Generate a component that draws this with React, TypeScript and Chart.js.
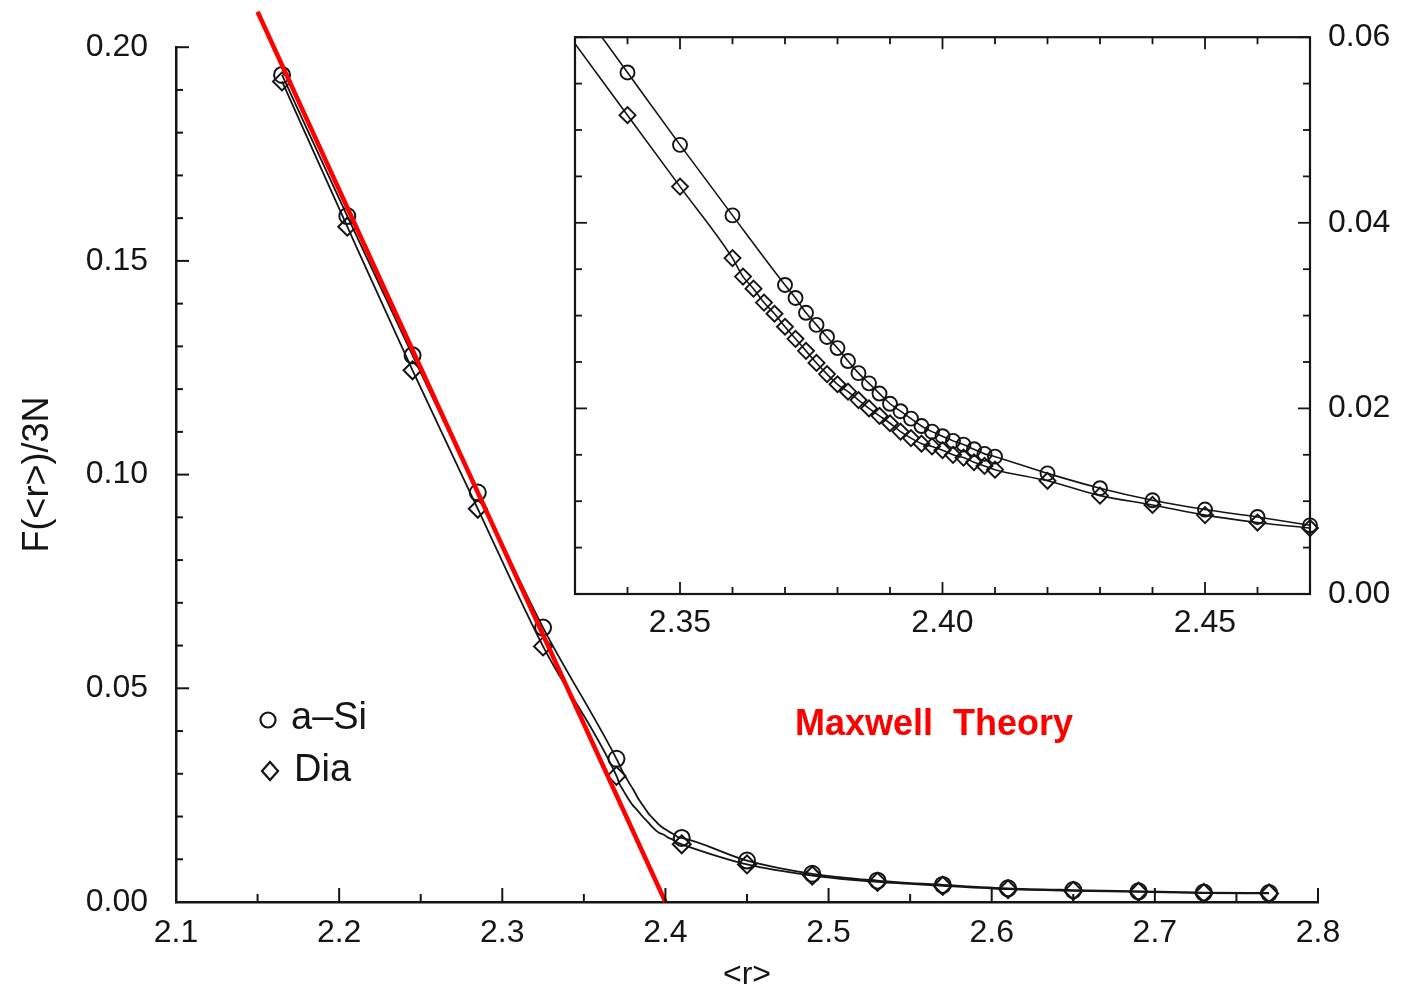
import React, { useEffect, useRef } from 'react';
import { Chart, registerables } from 'chart.js';
Chart.register(...registerables);

// ---------------- data ----------------
// main panel: marker positions
const mainR = [2.165, 2.205, 2.245, 2.285, 2.325, 2.37, 2.41, 2.45, 2.49, 2.53, 2.57, 2.61, 2.65, 2.69, 2.73, 2.77];
const aSiMain = [0.1935, 0.1605, 0.1279, 0.0958, 0.0642, 0.0335, 0.0150, 0.0097, 0.0066, 0.0050, 0.0040, 0.0032, 0.0028, 0.0025, 0.0022, 0.0021];
const diaMain = [0.1920, 0.1580, 0.1244, 0.0920, 0.0598, 0.0295, 0.0135, 0.0088, 0.0062, 0.0047, 0.0038, 0.0030, 0.0026, 0.0024, 0.0021, 0.0020];

// inset: a-Si
const aSiInsetR = [2.34, 2.35, 2.36, 2.370, 2.372, 2.374, 2.376, 2.378, 2.380, 2.382, 2.384, 2.386, 2.388, 2.390, 2.392, 2.394, 2.396, 2.398, 2.400, 2.402, 2.404, 2.406, 2.408, 2.410, 2.42, 2.43, 2.44, 2.45, 2.46, 2.47];
const aSiInsetF = [0.0562, 0.0484, 0.0408, 0.0333, 0.0319, 0.0303, 0.0290, 0.0277, 0.0265, 0.0251, 0.0238, 0.0227, 0.0216, 0.0205, 0.0197, 0.0189, 0.0181, 0.0175, 0.0170, 0.0165, 0.0161, 0.0156, 0.0151, 0.0148, 0.0130, 0.0114, 0.0101, 0.0091, 0.0083, 0.0074];
// inset: Dia
const diaInsetR = [2.34, 2.35, 2.360, 2.362, 2.364, 2.366, 2.368, 2.370, 2.372, 2.374, 2.376, 2.378, 2.380, 2.382, 2.384, 2.386, 2.388, 2.390, 2.392, 2.394, 2.396, 2.398, 2.400, 2.402, 2.404, 2.406, 2.408, 2.410, 2.42, 2.43, 2.44, 2.45, 2.46, 2.47];
const diaInsetF = [0.0516, 0.0439, 0.0362, 0.0342, 0.0329, 0.0314, 0.0302, 0.0288, 0.0275, 0.0262, 0.0249, 0.0237, 0.0226, 0.0218, 0.0209, 0.0200, 0.0192, 0.0184, 0.0175, 0.0168, 0.0162, 0.0159, 0.0155, 0.0150, 0.0147, 0.0142, 0.0138, 0.0134, 0.0122, 0.0106, 0.0096, 0.0085, 0.0077, 0.0071];
// where the inset curves enter the frame at its left edge
const aSiInsetStart = { x: 2.33, y: 0.0640 };
const diaInsetStart = { x: 2.33, y: 0.0593 };

// Maxwell theory line F/3N = 2 - 5<r>/6
const maxwellR = [2.15, 2.40];
const maxwellF = [0.2083, 0.0];

const mainXTicks = [2.1, 2.2, 2.3, 2.4, 2.5, 2.6, 2.7, 2.8];
const mainYTicks = [0.0, 0.05, 0.10, 0.15, 0.20];
const insetXTicks = [2.35, 2.40, 2.45];
const insetYTicks = [0.0, 0.02, 0.04, 0.06];

const legendLabels = ['a\u2013Si', 'Dia'];
const theoryLabel = 'Maxwell  Theory';
const yTitle = 'F(<r>)/3N';
const xTitle = '<r>';

// ---------------- helpers ----------------
const INK = '#151515';
const FONT = "'Liberation Sans', Arial, Helvetica, sans-serif";

const pts = (xs: number[], ys: number[]) => xs.map((x, i) => ({ x, y: ys[i] }));

function mergeLine(mx: number[], my: number[], dx: number[], dy: number[], lo: number, hi: number) {
  const a = pts(mx, my);
  const b = pts(dx, dy).filter((p) => p.x > lo + 1e-9 && p.x < hi - 1e-9);
  return a.concat(b).sort((p, q) => p.x - q.x);
}

function line(ctx: CanvasRenderingContext2D, x1: number, y1: number, x2: number, y2: number) {
  ctx.beginPath();
  ctx.moveTo(x1, y1);
  ctx.lineTo(x2, y2);
  ctx.stroke();
}

const fixTicks = (vals: number[]) => (s: any) => {
  s.ticks = vals.map((v) => ({ value: v }));
};

const mainDecor = {
  id: 'mainDecor',
  afterDraw(chart: any) {
    const { ctx, chartArea, scales } = chart;
    const x = scales.x;
    const y = scales.y;
    ctx.save();
    ctx.strokeStyle = INK;
    ctx.lineWidth = 2;
    for (let k = 0; k <= 20; k++) {
      const py = y.getPixelForValue(k * 0.01);
      const len = k % 5 === 0 ? 13 : 7;
      line(ctx, chartArea.left, py, chartArea.left + len, py);
    }
    for (let k = 0; k <= 14; k++) {
      const px = x.getPixelForValue(2.1 + k * 0.05);
      const len = k % 2 === 0 ? 14 : 8;
      line(ctx, px, chartArea.bottom, px, chartArea.bottom - len);
    }
    // legend
    ctx.lineWidth = 2.2;
    ctx.beginPath();
    ctx.arc(268, 720, 7.5, 0, Math.PI * 2);
    ctx.stroke();
    ctx.beginPath();
    ctx.moveTo(270, 762);
    ctx.lineTo(278, 771);
    ctx.lineTo(270, 780);
    ctx.lineTo(262, 771);
    ctx.closePath();
    ctx.stroke();
    ctx.fillStyle = INK;
    ctx.font = `38px ${FONT}`;
    ctx.textBaseline = 'middle';
    ctx.textAlign = 'left';
    ctx.fillText(legendLabels[0], 291, 719);
    ctx.fillText(legendLabels[1], 294, 771);
    // theory label
    ctx.fillStyle = '#ff0000';
    ctx.font = `bold 36px ${FONT}`;
    ctx.fillText(theoryLabel, 795, 725);
    ctx.restore();
  },
};

const insetDecor = {
  id: 'insetDecor',
  afterDraw(chart: any) {
    const { ctx, chartArea, scales } = chart;
    const x = scales.x;
    const y = scales.y;
    const { left, right, top, bottom } = chartArea;
    ctx.save();
    ctx.strokeStyle = INK;
    ctx.lineWidth = 2.2;
    ctx.strokeRect(left, top, right - left, bottom - top);
    ctx.lineWidth = 1.8;
    for (let k = 0; k <= 12; k++) {
      const py = y.getPixelForValue(k * 0.005);
      const len = k % 4 === 0 ? 12 : 7;
      line(ctx, left, py, left + len, py);
      line(ctx, right, py, right - len, py);
    }
    for (let k = 0; k <= 14; k++) {
      const px = x.getPixelForValue(2.33 + k * 0.01);
      const len = (k + 3) % 5 === 0 ? 12 : 7;
      line(ctx, px, bottom, px, bottom - len);
      line(ctx, px, top, px, top + len);
    }
    ctx.restore();
  },
};

export default function App() {
  const mainRef = useRef<HTMLCanvasElement>(null);
  const insetRef = useRef<HTMLCanvasElement>(null);

  useEffect(() => {
    document.body.style.margin = '0';
    document.body.style.background = '#ffffff';
    const tickFont = { family: FONT, size: 32 };

    const main = new Chart(mainRef.current as HTMLCanvasElement, {
      type: 'line',
      data: {
        datasets: [
          {
            label: 'Maxwell',
            data: pts(maxwellR, maxwellF),
            borderColor: '#ff0000',
            borderWidth: 4.5,
            pointRadius: 0,
            clip: false,
          } as any,
          {
            label: 'a-Si line',
            data: mergeLine(mainR, aSiMain, aSiInsetR, aSiInsetF, 2.37, 2.41),
            borderColor: INK,
            borderWidth: 1.8,
            pointRadius: 0,
            cubicInterpolationMode: 'monotone',
          },
          {
            label: 'Dia line',
            data: mergeLine(mainR, diaMain, diaInsetR, diaInsetF, 2.37, 2.41),
            borderColor: INK,
            borderWidth: 1.8,
            pointRadius: 0,
            cubicInterpolationMode: 'monotone',
          },
          {
            label: 'a-Si',
            data: pts(mainR, aSiMain),
            showLine: false,
            pointStyle: 'circle',
            pointRadius: 8,
            pointBorderWidth: 2,
            pointBorderColor: INK,
            pointBackgroundColor: 'rgba(0,0,0,0)',
            clip: false,
          } as any,
          {
            label: 'Dia',
            data: pts(mainR, diaMain),
            showLine: false,
            pointStyle: 'rectRot',
            pointRadius: 9,
            pointBorderWidth: 2,
            pointBorderColor: INK,
            pointBackgroundColor: 'rgba(0,0,0,0)',
            clip: false,
          } as any,
        ],
      },
      options: {
        animation: false,
        responsive: false,
        maintainAspectRatio: false,
        events: [],
        layout: { padding: { left: 0, top: 42, right: 88, bottom: 0 } },
        plugins: { legend: { display: false }, tooltip: { enabled: false } },
        scales: {
          x: {
            type: 'linear',
            min: 2.1,
            max: 2.8,
            afterBuildTicks: fixTicks(mainXTicks),
            afterFit: (s: any) => {
              s.height = 86;
            },
            ticks: {
              callback: (v: any) => Number(v).toFixed(1),
              font: tickFont,
              color: INK,
              padding: 12,
              maxRotation: 0,
              autoSkip: false,
            },
            grid: { drawOnChartArea: false, drawTicks: false },
            border: { display: true, color: INK, width: 2.5 },
            title: {
              display: true,
              text: xTitle,
              color: INK,
              font: { family: FONT, size: 32, lineHeight: 0.8 },
              padding: { top: 0, bottom: 0 },
            },
          },
          y: {
            type: 'linear',
            min: 0,
            max: 0.2,
            afterBuildTicks: fixTicks(mainYTicks),
            afterFit: (s: any) => {
              s.width = 176;
            },
            ticks: {
              callback: (v: any) => Number(v).toFixed(2),
              font: tickFont,
              color: INK,
              padding: 28,
              autoSkip: false,
            },
            grid: { drawOnChartArea: false, drawTicks: false },
            border: { display: true, color: INK, width: 2.5 },
            title: {
              display: true,
              text: yTitle,
              color: INK,
              font: { family: FONT, size: 36, lineHeight: 1.2 },
              padding: { top: 16, bottom: 0 },
            },
          },
        },
      },
      plugins: [mainDecor],
    } as any);

    const inset = new Chart(insetRef.current as HTMLCanvasElement, {
      type: 'line',
      data: {
        datasets: [
          {
            label: 'a-Si line',
            data: [aSiInsetStart].concat(pts(aSiInsetR, aSiInsetF)),
            borderColor: INK,
            borderWidth: 1.6,
            pointRadius: 0,
            cubicInterpolationMode: 'monotone',
          },
          {
            label: 'Dia line',
            data: [diaInsetStart].concat(pts(diaInsetR, diaInsetF)),
            borderColor: INK,
            borderWidth: 1.6,
            pointRadius: 0,
            cubicInterpolationMode: 'monotone',
          },
          {
            label: 'a-Si',
            data: pts(aSiInsetR, aSiInsetF),
            showLine: false,
            pointStyle: 'circle',
            pointRadius: 7,
            pointBorderWidth: 1.9,
            pointBorderColor: INK,
            pointBackgroundColor: 'rgba(0,0,0,0)',
            clip: false,
          } as any,
          {
            label: 'Dia',
            data: pts(diaInsetR, diaInsetF),
            showLine: false,
            pointStyle: 'rectRot',
            pointRadius: 8,
            pointBorderWidth: 1.9,
            pointBorderColor: INK,
            pointBackgroundColor: 'rgba(0,0,0,0)',
            clip: false,
          } as any,
        ],
      },
      options: {
        animation: false,
        responsive: false,
        maintainAspectRatio: false,
        events: [],
        layout: { padding: { left: 575, top: 35, right: 0, bottom: 0 } },
        plugins: { legend: { display: false }, tooltip: { enabled: false } },
        scales: {
          x: {
            type: 'linear',
            position: 'bottom',
            min: 2.33,
            max: 2.47,
            afterBuildTicks: fixTicks(insetXTicks),
            afterFit: (s: any) => {
              s.height = 394;
            },
            ticks: {
              callback: (v: any) => Number(v).toFixed(2),
              font: tickFont,
              color: INK,
              padding: 10,
              maxRotation: 0,
              autoSkip: false,
            },
            grid: { display: false, drawTicks: false },
            border: { display: false },
          },
          y: {
            type: 'linear',
            position: 'right',
            min: 0,
            max: 0.06,
            afterBuildTicks: fixTicks(insetYTicks),
            afterFit: (s: any) => {
              s.width = 96;
            },
            ticks: {
              callback: (v: any) => Number(v).toFixed(2),
              font: tickFont,
              color: INK,
              padding: 18,
              autoSkip: false,
            },
            grid: { display: false, drawTicks: false },
            border: { display: false },
          },
        },
      },
      plugins: [insetDecor],
    } as any);

    return () => {
      main.destroy();
      inset.destroy();
    };
  }, []);

  return (
    <div style={{ position: 'relative', width: 1406, height: 988, background: '#fff' }}>
      <canvas ref={mainRef} width={1406} height={988} style={{ position: 'absolute', left: 0, top: 0 }} />
      <canvas ref={insetRef} width={1406} height={988} style={{ position: 'absolute', left: 0, top: 0 }} />
    </div>
  );
}
